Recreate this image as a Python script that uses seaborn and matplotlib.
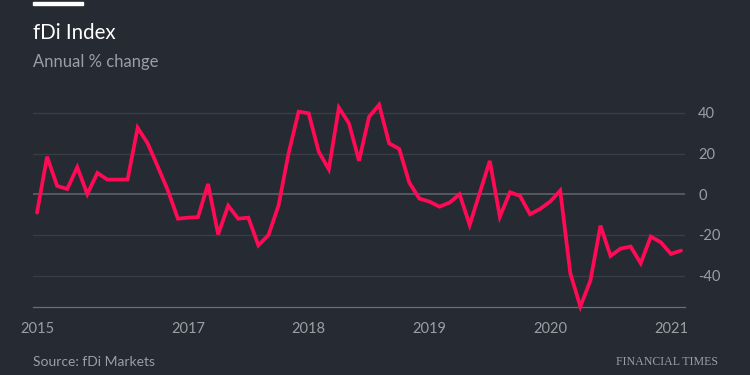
"""
FT-style dark line chart: fDi Index, annual % change.
"""
import matplotlib
matplotlib.use("Agg")
import matplotlib.pyplot as plt
from matplotlib.patches import Rectangle
from matplotlib.ticker import FixedLocator
import seaborn as sns
import pandas as pd

# monthly annual % change, first point Oct 2015, last Feb 2021
values = [
    -9.0, 18.5, 4.1, 2.6, 13.3, 0.1, 10.5, 7.2, 7.2, 7.2,
    32.7, 25.0, 13.6, 2.0, -12.0, -11.5, -11.2, 5.1, -19.7, -5.6,
    -12.0, -11.5, -25.1, -20.1, -5.6, 20.1, 40.6, 39.8, 20.9, 12.3,
    42.6, 34.9, 16.5, 38.1, 44.0, 25.0, 22.3, 5.7, -2.1, -3.6,
    -6.1, -4.1, 0.0, -15.1, 0.7, 16.4, -11.0, 1.0, -0.8, -9.8,
    -7.2, -3.6, 1.8, -38.8, -55.2, -42.4, -15.4, -30.3, -26.7, -25.7,
    -33.9, -20.8, -23.6, -29.3, -27.7,
]
january_idx = [3, 15, 27, 39, 51, 63]
year_label_idx = [0, 15, 27, 39, 51, 63]
year_labels = ["2015", "2017", "2018", "2019", "2020", "2021"]
y_ticks = [-40, -20, 0, 20, 40]

BG = "#262a33"
LINE = "#ff0a55"
GRID = "#393d46"
ZERO = "#5e6168"
AXIS = "#6b6e75"
MUTED = "#9c9ea5"

sns.set_theme(style="dark")
plt.rcParams["font.family"] = ["Lato", "DejaVu Sans"]

df = pd.DataFrame({"idx": range(len(values)), "change": values})

fig = plt.figure(figsize=(7.5, 3.75), dpi=100, facecolor=BG)
ax = fig.add_axes([33 / 750, 68 / 375, 652 / 750, 206.3 / 375], facecolor=BG)

ax.set_xlim(-0.4, len(values) - 0.6)
ax.set_ylim(-55.4, 46)

# gridlines
ax.set_yticks(y_ticks)
ax.grid(False)
for v in y_ticks:
    ax.axhline(v, color=ZERO if v == 0 else GRID, lw=1.2 if v == 0 else 1.0, zorder=1)

sns.lineplot(data=df, x="idx", y="change", ax=ax, color=LINE, lw=2.7,
             zorder=3, clip_on=False, solid_joinstyle="miter")

for s in ["top", "left", "right"]:
    ax.spines[s].set_visible(False)
ax.spines["bottom"].set_color(AXIS)
ax.spines["bottom"].set_linewidth(0.9)

# y labels on the right
ax.yaxis.tick_right()
ax.tick_params(axis="y", length=0, pad=9.5, labelsize=10.5, labelcolor=MUTED)
ax.set_yticklabels([str(v) for v in y_ticks])
ax.set_xlabel("")
ax.set_ylabel("")

# month ticks, longer at January
ax.xaxis.set_major_locator(FixedLocator(january_idx))
ax.xaxis.set_minor_locator(FixedLocator(list(range(len(values)))))
ax.tick_params(axis="x", which="major", length=8, width=0.8, color=AXIS,
               labelbottom=False, direction="out")
ax.tick_params(axis="x", which="minor", length=4, width=0.8, color=AXIS,
               direction="out")

sec = ax.secondary_xaxis("bottom")
sec.set_xticks(year_label_idx)
sec.set_xticklabels(year_labels)
sec.tick_params(length=0, pad=11, labelsize=10.5, labelcolor=MUTED)
sec.spines["bottom"].set_visible(False)

# header / footer
fig.patches.append(Rectangle((33 / 750, 1 - 5 / 375), 50 / 750, 3.3 / 375,
                             transform=fig.transFigure, color="white"))
fig.text(33 / 750, 1 - 39 / 375, "fDi Index", color="white", fontsize=14.8,
         va="baseline")
fig.text(33 / 750, 1 - 67 / 375, "Annual % change", color=MUTED, fontsize=12,
         va="baseline")
fig.text(33 / 750, 9 / 375, "Source: fDi Markets", color=MUTED, fontsize=10,
         va="baseline")
fig.text(718 / 750, 10 / 375, "FINANCIAL TIMES", color=MUTED, fontsize=8.6,
         family="Liberation Serif", ha="right", va="baseline")

fig.savefig("out.png", dpi=100, facecolor=BG)
